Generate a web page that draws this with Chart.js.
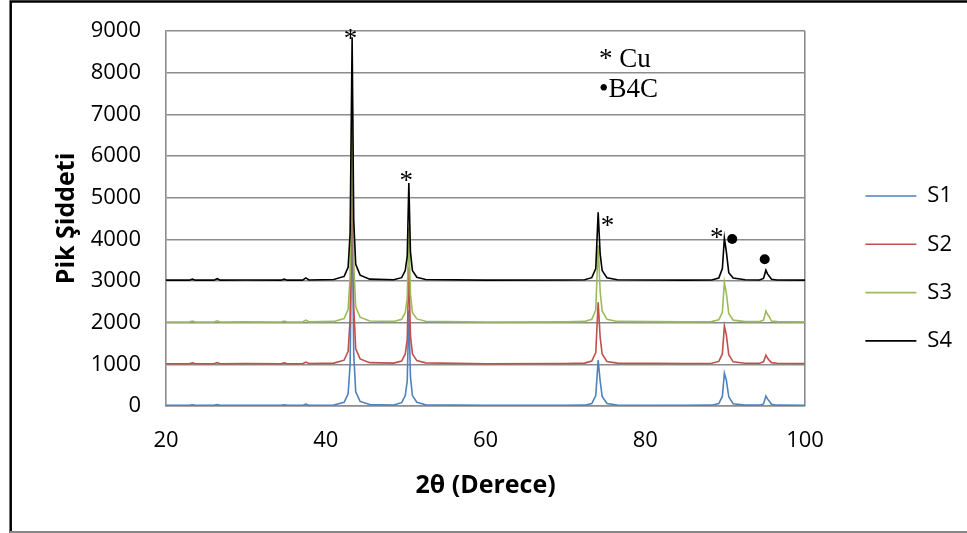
<!DOCTYPE html>
<html lang="tr">
<head>
  <meta charset="UTF-8">
  <title>XRD - Pik Şiddeti</title>
  <script src="https://cdn.jsdelivr.net/npm/chart.js"></script>
  <style>
    html, body { margin: 0; padding: 0; background: #fff; }
    #wrap { width: 967px; height: 533px; }
  </style>
</head>
<body>
<div id="wrap"><canvas id="xrd"></canvas></div>
<script>
// 2θ positions (shared by all four scans)
const twoTheta = [20, 22.9, 23.3, 23.7, 26.0, 26.4, 26.8, 30, 34.4, 34.8, 35.2, 37.1, 37.5, 37.9,
  41, 42.3, 42.8, 43.05, 43.3, 43.5, 43.75, 44.3, 45.5,
  48.5, 49.5, 49.95, 50.2, 50.4, 50.6, 50.85, 51.4, 52.5, 60, 70,
  72.4, 73.3, 73.8, 74.1, 74.35, 74.6, 75.2, 76.5, 85,
  88.3, 89.2, 89.65, 89.9, 90.15, 90.45, 91.0, 92.5,
  94.3, 94.8, 95.1, 95.3, 95.5, 95.8, 96.5, 100];

const s1 = [15, 15, 30, 15, 15, 35, 15, 18, 15, 30, 15, 15, 45, 18,
  25, 90, 290, 1000, 5000, 1250, 340, 110, 35,
  25, 80, 250, 600, 2300, 700, 250, 90, 30, 15, 18,
  20, 60, 250, 1100, 600, 230, 60, 25, 18,
  20, 60, 230, 790, 620, 220, 55, 20,
  20, 50, 240, 170, 120, 40, 20, 15];

const s2 = [1015, 1015, 1035, 1015, 1015, 1040, 1015, 1020, 1015, 1035, 1015, 1015, 1055, 1020,
  1030, 1100, 1310, 2080, 6500, 2380, 1370, 1130, 1040,
  1030, 1080, 1250, 1600, 3330, 1700, 1250, 1090, 1035, 1015, 1020,
  1030, 1080, 1280, 2490, 1650, 1250, 1070, 1030, 1020,
  1025, 1070, 1250, 1920, 1700, 1230, 1060, 1025,
  1025, 1060, 1220, 1150, 1100, 1040, 1025, 1020];

const s3 = [2015, 2015, 2040, 2015, 2015, 2045, 2015, 2020, 2015, 2040, 2015, 2015, 2060, 2020,
  2030, 2100, 2320, 3100, 7600, 3400, 2380, 2130, 2040,
  2030, 2080, 2240, 2580, 4290, 2680, 2240, 2090, 2035, 2015, 2020,
  2030, 2080, 2300, 3860, 2750, 2280, 2080, 2030, 2020,
  2025, 2070, 2250, 2970, 2700, 2220, 2060, 2025,
  2025, 2060, 2280, 2200, 2150, 2040, 2025, 2020];

const s4 = [3020, 3020, 3045, 3020, 3020, 3055, 3020, 3025, 3020, 3045, 3020, 3020, 3075, 3025,
  3035, 3110, 3330, 4150, 8850, 4450, 3400, 3140, 3045,
  3030, 3080, 3250, 3600, 5350, 3700, 3250, 3090, 3035, 3020, 3025,
  3030, 3080, 3300, 4650, 3650, 3250, 3080, 3030, 3020,
  3025, 3070, 3300, 4030, 3700, 3200, 3070, 3030,
  3025, 3060, 3260, 3170, 3120, 3040, 3025, 3020];

const seriesNames = ['S1', 'S2', 'S3', 'S4'];
const seriesColors = ['#4f81bd', '#c0504d', '#9bbb59', '#000000'];

// peak markers (data units)
const cuStarX = [43.1, 50.06, 75.26, 88.93];
const cuStarY = [8615, 5215, 4135, 3840];
const b4cDotX = [90.88, 94.95];
const b4cDotY = [4008, 3520];
const keyX = 74.2;
const keyY = [8136, 7416];
const keyText = ['* Cu', '\u2022B4C'];

const gridGray = '#8c8c8c';
const FONT = '"Open Sans", "Liberation Sans", sans-serif';

const frame = {
  id: 'frame',
  beforeDraw(chart) {
    const c = chart.ctx;
    c.save();
    c.fillStyle = '#fff';
    c.fillRect(0, 0, chart.width, chart.height);
    c.strokeStyle = '#000';
    c.lineWidth = 2.5;
    c.beginPath();
    c.moveTo(10.7, 533);
    c.lineTo(10.7, 1.5);
    c.lineTo(967, 1.5);
    c.stroke();
    c.strokeStyle = '#888';
    c.lineWidth = 2;
    c.beginPath();
    c.moveTo(10, 532);
    c.lineTo(967, 532);
    c.stroke();
    c.restore();
  }
};

const markers = {
  id: 'markers',
  afterDatasetsDraw(chart) {
    const c = chart.ctx;
    const xs = chart.scales.x, ys = chart.scales.y;
    c.save();
    c.fillStyle = '#000';
    c.font = '27px "Liberation Serif", "Times New Roman", serif';
    c.textAlign = 'center';
    c.textBaseline = 'alphabetic';
    cuStarX.forEach((v, i) => {
      c.fillText('*', xs.getPixelForValue(v), ys.getPixelForValue(cuStarY[i]));
    });
    b4cDotX.forEach((v, i) => {
      c.beginPath();
      c.arc(xs.getPixelForValue(v), ys.getPixelForValue(b4cDotY[i]), 5, 0, Math.PI * 2);
      c.fill();
    });
    c.textAlign = 'left';
    keyText.forEach((t, i) => {
      c.fillText(t, xs.getPixelForValue(keyX), ys.getPixelForValue(keyY[i]));
    });
    c.restore();
  }
};

const seriesData = [s1, s2, s3, s4];
const datasets = seriesNames.map((name, i) => ({
  label: name,
  data: twoTheta.map((x, j) => ({ x: x, y: seriesData[i][j] })),
  borderColor: seriesColors[i],
  backgroundColor: seriesColors[i],
  borderWidth: 1.6,
  pointRadius: 0,
  tension: 0,
  order: seriesNames.length - i
}));

new Chart(document.getElementById('xrd'), {
  type: 'line',
  data: { datasets: datasets },
  options: {
    responsive: true,
    maintainAspectRatio: false,
    animation: false,
    layout: { padding: { left: 10, top: 31, right: 5, bottom: 0 } },
    plugins: {
      tooltip: { enabled: false },
      legend: {
        position: 'right',
        align: 'start',
        title: { display: true, text: '', font: { size: 10, lineHeight: 1 }, padding: { top: 117.7, bottom: 0 } },
        labels: {
          usePointStyle: true,
          pointStyle: 'line',
          pointStyleWidth: 51,
          padding: 26.3,
          color: '#000',
          font: { family: FONT, size: 22 },
          sort: (a, b) => a.datasetIndex - b.datasetIndex
        }
      }
    },
    scales: {
      x: {
        type: 'linear',
        min: 20,
        max: 100,
        ticks: { stepSize: 20, padding: 22, color: '#000', font: { family: FONT, size: 22 }, callback: (v) => String(v) },
        grid: {
          drawTicks: false,
          lineWidth: 1.6,
          color: (ctx) => (ctx.tick && ctx.tick.value === 100) ? gridGray : 'rgba(0,0,0,0)'
        },
        border: { display: true, color: gridGray, width: 1.6 },
        title: {
          display: true,
          text: '2θ (Derece)',
          color: '#000',
          font: { family: FONT, size: 25, weight: 'bold' },
          padding: { top: 0, bottom: 31.8 }
        },
        afterFit(s) { s.height = 127; }
      },
      y: {
        min: 0,
        max: 9000,
        ticks: { stepSize: 1000, padding: 25, color: '#000', font: { family: FONT, size: 22 }, callback: (v) => String(v) },
        grid: { drawTicks: false, color: gridGray, lineWidth: 1.6 },
        border: { display: true, color: gridGray, width: 1.6 },
        title: {
          display: true,
          text: 'Pik Şiddeti',
          color: '#000',
          font: { family: FONT, size: 25, weight: 'bold' },
          padding: { top: 41.8, bottom: 0 }
        },
        afterFit(s) {
          s.width = 156;
          s.paddingTop = 0;
          s.paddingBottom = 0;
        }
      },
      y2: {
        position: 'right',
        display: true,
        min: 0,
        max: 1,
        grid: { display: false, drawOnChartArea: false },
        border: { display: false },
        ticks: { display: false },
        afterFit(s) { s.width = 34; }
      }
    }
  },
  plugins: [frame, markers]
});
</script>
</body>
</html>
